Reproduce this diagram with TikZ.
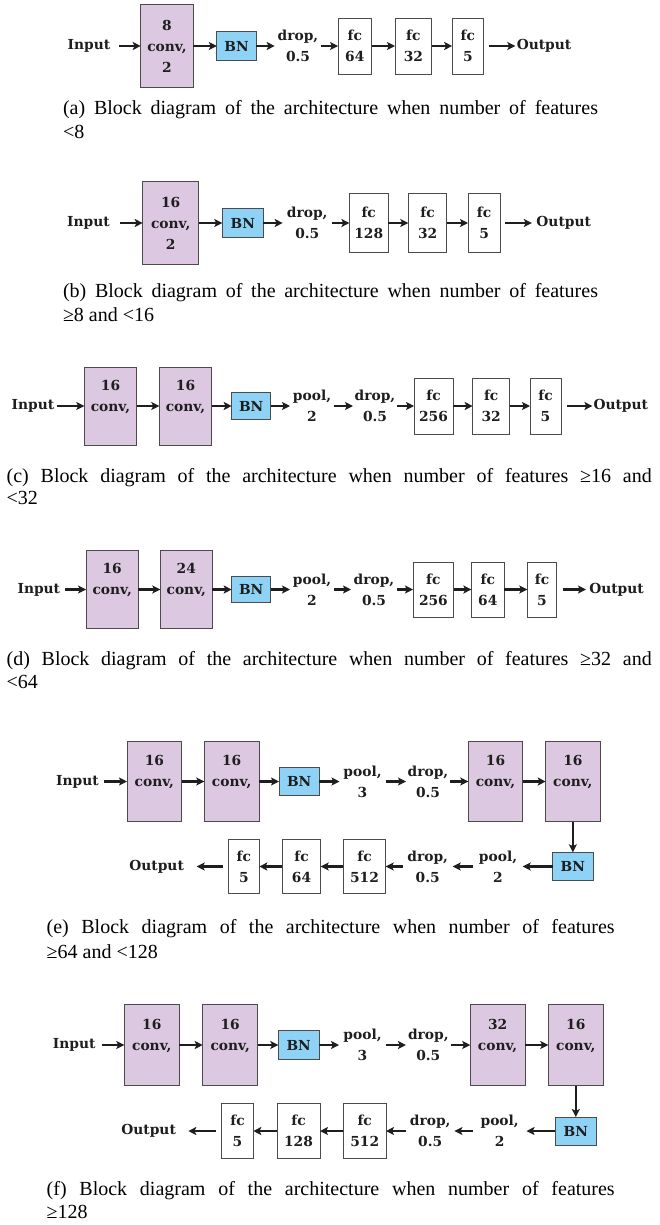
\documentclass[tikz,border=0pt]{standalone}
\usepackage{fontspec}
\newfontfamily\capfont{Liberation Serif}
\newfontfamily\diagfont{DejaVu Serif}
\usetikzlibrary{arrows.meta}
\definecolor{convfill}{RGB}{221,200,225}
\definecolor{bnfill}{RGB}{142,211,245}
\definecolor{edge}{RGB}{75,75,75}
\definecolor{ink}{RGB}{30,30,30}
\tikzset{
  dtext/.style={font=\diagfont\bfseries\fontsize{13.8}{21}\selectfont, text=ink, inner sep=0pt, outer sep=0pt, align=center},
  convbox/.style={dtext, draw=edge, line width=0.9pt, fill=convfill},
  bnbox/.style={dtext, draw=edge, line width=0.9pt, fill=bnfill},
  fcbox/.style={dtext, draw=edge, line width=0.9pt, fill=white, minimum height=56pt},
  arr/.style={draw=ink, line width=2.1pt, -{Stealth[length=8pt,width=8pt,inset=1.8pt]}},
  captext/.style={font=\capfont\fontsize{20}{23.5}\selectfont, inner sep=0pt, outer sep=0pt, text=black}
}
\begin{document}
\begin{tikzpicture}[x=1pt,y=-1pt]
\fill[white] (0,0) rectangle (659,1225);
\useasboundingbox (0,0) rectangle (659,1225);

% ---------------- (a) ----------------
\node[dtext, minimum width=60pt] (inA) at (89,46) {Input};
\node[convbox, minimum width=52.6pt, minimum height=82.8pt] (convA) at (167,46) {8\\conv,\\2};
\node[bnbox, minimum width=39.6pt, minimum height=29pt] (bnA) at (236.6,46) {BN};
\node[dtext, minimum width=46.6pt] (dropA) at (298,46) {drop,\\0.5};
\node[fcbox, minimum width=33.5pt] (fc64A) at (354.8,46) {fc\\64};
\node[fcbox, minimum width=36.8pt] (fc32A) at (413.4,46) {fc\\32};
\node[fcbox, minimum width=31.2pt] (fc5A) at (467.8,46) {fc\\5};
\node[dtext, minimum width=57.4pt] (outA) at (544,46) {Output};
\draw[arr] (inA.east) -- (convA.west);
\draw[arr] (convA.east) -- (bnA.west);
\draw[arr] (bnA.east) -- (dropA.west);
\draw[arr] (dropA.east) -- (fc64A.west);
\draw[arr] (fc64A.east) -- (fc32A.west);
\draw[arr] (fc32A.east) -- (fc5A.west);
\draw[arr, shorten <=6pt] (fc5A.east) -- (outA.west);
\node[captext, anchor=base west] (capA1) at (63,115) {\makebox[535pt][s]{(a) Block diagram of the architecture when number of features}};
\node[captext, anchor=base west] (capA2) at (63,138.5) {<8};

% ---------------- (b) ----------------
\node[dtext, minimum width=63.2pt] (inB) at (88.4,223) {Input};
\node[convbox, minimum width=56pt, minimum height=82.3pt] (convB) at (170.7,223) {16\\conv,\\2};
\node[bnbox, minimum width=41pt, minimum height=29pt] (bnB) at (242.8,223) {BN};
\node[dtext, minimum width=49.1pt] (dropB) at (307.25,223) {drop,\\0.5};
\node[fcbox, minimum width=38.6pt, minimum height=59pt] (fc128B) at (368.7,223) {fc\\128};
\node[fcbox, minimum width=38.6pt, minimum height=59pt] (fc32B) at (427.6,223) {fc\\32};
\node[fcbox, minimum width=32.2pt, minimum height=59pt] (fc5B) at (484.1,223) {fc\\5};
\node[dtext, minimum width=63.8pt] (outB) at (563.7,223) {Output};
\draw[arr] (inB.east) -- (convB.west);
\draw[arr] (convB.east) -- (bnB.west);
\draw[arr] (bnB.east) -- (dropB.west);
\draw[arr] (dropB.east) -- (fc128B.west);
\draw[arr] (fc128B.east) -- (fc32B.west);
\draw[arr] (fc32B.east) -- (fc5B.west);
\draw[arr, shorten <=5pt] (fc5B.east) -- (outB.west);
\node[captext, anchor=base west] (capB1) at (63,297) {\makebox[535pt][s]{(b) Block diagram of the architecture when number of features}};
\node[captext, anchor=base west] (capB2) at (63,321) {≥8 and <16};

% ---------------- (c) ----------------
\node[dtext, minimum width=47.4pt] (inC) at (33,406) {Input};
\node[convbox, minimum width=52.4pt, minimum height=78pt] (convC1) at (110.5,406) {16\\conv,\\\mbox{}};
\node[convbox, minimum width=52.4pt, minimum height=78pt] (convC2) at (185.5,406) {16\\conv,\\\mbox{}};
\node[bnbox, minimum width=39pt, minimum height=26.6pt] (bnC) at (251.2,406) {BN};
\node[dtext, minimum width=44pt] (poolC) at (312,406) {pool,\\2};
\node[dtext, minimum width=44pt] (dropC) at (375,406) {drop,\\0.5};
\node[fcbox, minimum width=39pt] (fc256C) at (433.5,406) {fc\\256};
\node[fcbox, minimum width=37pt] (fc32C) at (491.2,406) {fc\\32};
\node[fcbox, minimum width=31pt] (fc5C) at (545.5,406) {fc\\5};
\node[dtext, minimum width=56.7pt] (outC) at (620.75,406) {Output};
\draw[arr] (inC.east) -- (convC1.west);
\draw[arr] (convC1.east) -- (convC2.west);
\draw[arr] (convC2.east) -- (bnC.west);
\draw[arr] (bnC.east) -- (poolC.west);
\draw[arr] (poolC.east) -- (dropC.west);
\draw[arr] (dropC.east) -- (fc256C.west);
\draw[arr] (fc256C.east) -- (fc32C.west);
\draw[arr] (fc32C.east) -- (fc5C.west);
\draw[arr, shorten <=6pt] (fc5C.east) -- (outC.west);
\node[captext, anchor=base west] (capC1) at (6.7,482) {\makebox[645pt][s]{(c) Block diagram of the architecture when number of features ≥16 and}};
\node[captext, anchor=base west] (capC2) at (6.7,504.5) {<32};

% ---------------- (d) ----------------
\node[dtext, minimum width=52.3pt] (inD) at (38.85,589.5) {Input};
\node[convbox, minimum width=52.3pt, minimum height=77.3pt] (convD1) at (112.2,589.5) {16\\conv,\\\mbox{}};
\node[convbox, minimum width=52pt, minimum height=77.3pt] (convD2) at (186.3,589.5) {24\\conv,\\\mbox{}};
\node[bnbox, minimum width=39pt, minimum height=26.4pt] (bnD) at (251.2,589.5) {BN};
\node[dtext, minimum width=44pt] (poolD) at (312,589.5) {pool,\\2};
\node[dtext, minimum width=46pt] (dropD) at (374,589.5) {drop,\\0.5};
\node[fcbox, minimum width=40.8pt, minimum height=55pt] (fc256D) at (433.4,589.5) {fc\\256};
\node[fcbox, minimum width=32.8pt, minimum height=55pt] (fc64D) at (487.8,589.5) {fc\\64};
\node[fcbox, minimum width=29.4pt, minimum height=55pt] (fc5D) at (542,589.5) {fc\\5};
\node[dtext, minimum width=61pt] (outD) at (616.5,589.5) {Output};
\draw[arr] (inD.east) -- (convD1.west);
\draw[arr] (convD1.east) -- (convD2.west);
\draw[arr] (convD2.east) -- (bnD.west);
\draw[arr] (bnD.east) -- (poolD.west);
\draw[arr] (poolD.east) -- (dropD.west);
\draw[arr] (dropD.east) -- (fc256D.west);
\draw[arr] (fc256D.east) -- (fc64D.west);
\draw[arr] (fc64D.east) -- (fc5D.west);
\draw[arr, shorten <=6pt] (fc5D.east) -- (outD.west);
\node[captext, anchor=base west] (capD1) at (6.7,665) {\makebox[645pt][s]{(d) Block diagram of the architecture when number of features ≥32 and}};
\node[captext, anchor=base west] (capD2) at (6.7,688) {<64};

% ---------------- (e) ----------------
\node[dtext, minimum width=53pt] (inE) at (77.5,781.5) {Input};
\node[convbox, minimum width=54.7pt, minimum height=80pt] (convE1) at (154.35,781.5) {16\\conv,\\\mbox{}};
\node[convbox, minimum width=54.7pt, minimum height=80pt] (convE2) at (231.65,781.5) {16\\conv,\\\mbox{}};
\node[bnbox, minimum width=40.3pt, minimum height=27.6pt] (bnE1) at (299.15,781.5) {BN};
\node[dtext, minimum width=46pt] (poolE1) at (362.5,781.5) {pool,\\3};
\node[dtext, minimum width=44pt] (dropE1) at (428,781.5) {drop,\\0.5};
\node[convbox, minimum width=54.4pt, minimum height=80pt] (convE3) at (495.5,781.5) {16\\conv,\\\mbox{}};
\node[convbox, minimum width=54.3pt, minimum height=80pt] (convE4) at (572.85,781.5) {16\\conv,\\\mbox{}};
\node[bnbox, minimum width=40.7pt, minimum height=28.4pt] (bnE2) at (572.85,866.5) {BN};
\node[dtext, minimum width=49.4pt] (poolE2) at (498,866.5) {pool,\\2};
\node[dtext, minimum width=50pt] (dropE2) at (427.7,866.5) {drop,\\0.5};
\node[fcbox, minimum width=42.4pt, minimum height=54pt] (fc512E) at (364.5,866.5) {fc\\512};
\node[fcbox, minimum width=38.4pt, minimum height=54pt] (fc64E) at (301.5,866.5) {fc\\64};
\node[fcbox, minimum width=31pt, minimum height=54pt] (fc5E) at (243.8,866.5) {fc\\5};
\node[dtext, minimum width=80.1pt] (outE) at (156.65,866.5) {Output};
\draw[arr] (inE.east) -- (convE1.west);
\draw[arr] (convE1.east) -- (convE2.west);
\draw[arr] (convE2.east) -- (bnE1.west);
\draw[arr] (bnE1.east) -- (poolE1.west);
\draw[arr] (poolE1.east) -- (dropE1.west);
\draw[arr] (dropE1.east) -- (convE3.west);
\draw[arr] (convE3.east) -- (convE4.west);
\draw[arr] (convE4.south) -- (bnE2.north);
\draw[arr] (bnE2.west) -- (poolE2.east);
\draw[arr] (poolE2.west) -- (dropE2.east);
\draw[arr] (dropE2.west) -- (fc512E.east);
\draw[arr] (fc512E.west) -- (fc64E.east);
\draw[arr] (fc64E.west) -- (fc5E.east);
\draw[arr, shorten <=5pt] (fc5E.west) -- (outE.east);
\node[captext, anchor=base west] (capE1) at (46.7,933.5) {\makebox[568pt][s]{(e) Block diagram of the architecture when number of features}};
\node[captext, anchor=base west] (capE2) at (46.7,958) {≥64 and <128};

% ---------------- (f) ----------------
\node[dtext, minimum width=55.1pt] (inF) at (74.15,1045) {Input};
\node[convbox, minimum width=55pt, minimum height=81.4pt] (convF1) at (151.8,1045) {16\\conv,\\\mbox{}};
\node[convbox, minimum width=55pt, minimum height=81.4pt] (convF2) at (230.2,1045) {16\\conv,\\\mbox{}};
\node[bnbox, minimum width=40.7pt, minimum height=28.7pt] (bnF1) at (298.65,1045) {BN};
\node[dtext, minimum width=47pt] (poolF1) at (362.5,1045) {pool,\\3};
\node[dtext, minimum width=44.7pt] (dropF1) at (428.3,1045) {drop,\\0.5};
\node[convbox, minimum width=54.7pt, minimum height=81.4pt] (convF3) at (497.6,1045) {32\\conv,\\\mbox{}};
\node[convbox, minimum width=55pt, minimum height=81.4pt] (convF4) at (575.8,1045) {16\\conv,\\\mbox{}};
\node[bnbox, minimum width=41pt, minimum height=28pt] (bnF2) at (575.8,1131) {BN};
\node[dtext, minimum width=53.7pt] (poolF2) at (499.65,1131) {pool,\\2};
\node[dtext, minimum width=48.4pt] (dropF2) at (430.2,1131) {drop,\\0.5};
\node[fcbox, minimum width=42.6pt, minimum height=55.6pt] (fc512F) at (364.7,1131) {fc\\512};
\node[fcbox, minimum width=43pt, minimum height=55.6pt] (fc128F) at (298.5,1131) {fc\\128};
\node[fcbox, minimum width=31.6pt, minimum height=55.6pt] (fc5F) at (237.5,1131) {fc\\5};
\node[dtext, minimum width=79.3pt] (outF) at (148.65,1131) {Output};
\draw[arr] (inF.east) -- (convF1.west);
\draw[arr] (convF1.east) -- (convF2.west);
\draw[arr] (convF2.east) -- (bnF1.west);
\draw[arr] (bnF1.east) -- (poolF1.west);
\draw[arr] (poolF1.east) -- (dropF1.west);
\draw[arr] (dropF1.east) -- (convF3.west);
\draw[arr] (convF3.east) -- (convF4.west);
\draw[arr] (convF4.south) -- (bnF2.north);
\draw[arr] (bnF2.west) -- (poolF2.east);
\draw[arr] (poolF2.west) -- (dropF2.east);
\draw[arr] (dropF2.west) -- (fc512F.east);
\draw[arr] (fc512F.west) -- (fc128F.east);
\draw[arr] (fc128F.west) -- (fc5F.east);
\draw[arr, shorten <=6pt] (fc5F.west) -- (outF.east);
\node[captext, anchor=base west] (capF1) at (46.7,1195) {\makebox[568pt][s]{(f) Block diagram of the architecture when number of features}};
\node[captext, anchor=base west] (capF2) at (46.7,1218.5) {≥128};
\end{tikzpicture}
\end{document}
